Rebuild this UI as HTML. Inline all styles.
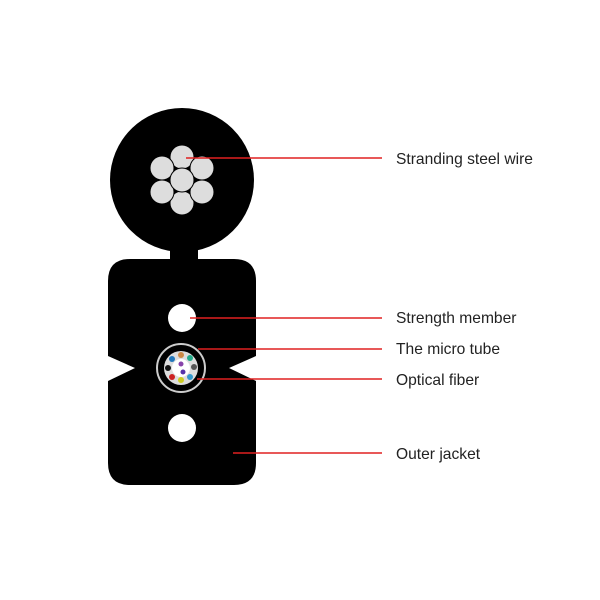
<!DOCTYPE html>
<html><head><style>
html,body{margin:0;padding:0;background:#fff;}
svg{display:block}
text{font-family:"Liberation Sans",sans-serif;font-size:15.6px;fill:#222;}
</style></head><body>
<svg width="600" height="600" viewBox="0 0 600 600">
<circle cx="182" cy="180" r="72" fill="#000"/>
<rect x="170" y="240" width="28" height="25" fill="#000"/>
<path d="M130,259 H234 Q256,259 256,281 V356 L229,368 L256,381 V463 Q256,485 234,485 H130 Q108,485 108,463 V381 L135,368 L108,356 V281 Q108,259 130,259 Z" fill="#000"/>
<g fill="#ddd" stroke="#000" stroke-width="1">
<circle cx="182" cy="157" r="12"/>
<circle cx="182" cy="203" r="12"/>
<circle cx="162" cy="168" r="12"/>
<circle cx="202" cy="168" r="12"/>
<circle cx="162" cy="192" r="12"/>
<circle cx="202" cy="192" r="12"/>
<circle cx="182" cy="180" r="12"/>
</g>
<circle cx="182" cy="318" r="14" fill="#fff"/>
<circle cx="182" cy="428" r="14" fill="#fff"/>
<circle cx="181" cy="368" r="24" fill="none" stroke="#ccc" stroke-width="2"/>
<circle cx="181" cy="368" r="17" fill="#ddd"/>
<circle cx="181" cy="368" r="9" fill="#fff"/>
<g>
<circle cx="181" cy="355" r="3" fill="#c84"/>
<circle cx="190" cy="358" r="3" fill="#2a8"/>
<circle cx="194" cy="367" r="3" fill="#555"/>
<circle cx="190" cy="377" r="3" fill="#39c"/>
<circle cx="181" cy="380" r="3" fill="#cc2"/>
<circle cx="172" cy="377" r="3" fill="#c22"/>
<circle cx="168" cy="368" r="3" fill="#111"/>
<circle cx="172" cy="359" r="3" fill="#27b"/>
<circle cx="181" cy="364" r="2.5" fill="#84a"/>
<circle cx="183" cy="372" r="2.5" fill="#53a"/>
</g>
<g stroke="#e02020" stroke-width="1.5">
<line x1="186" y1="158" x2="382" y2="158"/>
<line x1="190" y1="318" x2="382" y2="318"/>
<line x1="198" y1="349" x2="382" y2="349"/>
<line x1="197" y1="379" x2="382" y2="379"/>
<line x1="233" y1="453" x2="382" y2="453"/>
</g>
<text x="396" y="164">Stranding steel wire</text>
<text x="396" y="323">Strength member</text>
<text x="396" y="354">The micro tube</text>
<text x="396" y="385">Optical fiber</text>
<text x="396" y="459">Outer jacket</text>
</svg>
</body></html>
